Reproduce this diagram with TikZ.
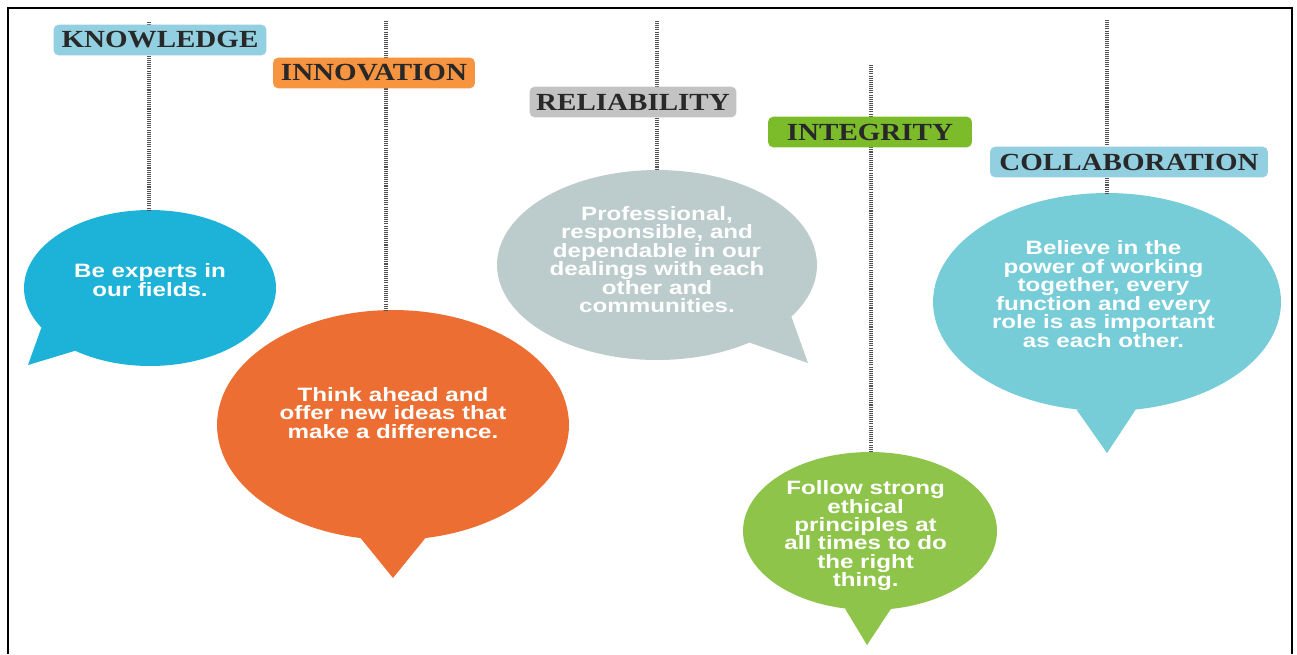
\documentclass[tikz,border=0pt]{standalone}
\usepackage{fontspec}
\setmainfont{Liberation Serif}
\setsansfont{Liberation Sans}
\usetikzlibrary{shapes.geometric}

% colours of the bubbles and the tags
\definecolor{knowblue}{RGB}{29,178,215}
\definecolor{innovorange}{RGB}{236,110,50}
\definecolor{reliagray}{RGB}{188,203,203}
\definecolor{integgreen}{RGB}{141,196,73}
\definecolor{collabteal}{RGB}{118,205,216}
\definecolor{tagblue}{RGB}{146,207,224}
\definecolor{tagorange}{RGB}{247,148,63}
\definecolor{taggray}{RGB}{195,195,195}
\definecolor{taggreen}{RGB}{124,187,42}
\definecolor{tagink}{RGB}{40,40,40}

\newcommand{\tagtext}[1]{\scalebox{1.18}[1]{#1}}
% centred lines, widened a little, with a fixed line pitch
\newcommand{\bubtext}[1]{\scalebox{1.25}[1]{\vbox{\lineskiplimit=-8pt\let\\\cr
  \halign{\hfil##\hfil\cr #1\crcr}}}}

\begin{document}
\begin{tikzpicture}[x=0.02cm, y=-0.02cm,
    tag/.style={rounded corners=3pt, minimum height=17.5pt, inner xsep=3pt, inner ysep=0pt,
      text=tagink, font=\fontsize{14}{14}\selectfont\bfseries},
    bubble/.style={ellipse, inner sep=0pt, outer sep=0pt},
    saying/.style={text=white, inner sep=0pt, font=\sffamily\fontsize{11}{10.5}\selectfont\bfseries},
    hanger/.style={black!68, line width=1.8pt, dash pattern=on 0.6pt off 0.6pt}]

  \useasboundingbox (0,0) rectangle (1297,654);

  % Frame
  \draw[line width=1.2pt] (8,654) -- (8,8) -- (1292,8) -- (1292,654);

  % Bubbles
  \node[bubble, fill=knowblue, minimum width=5.04cm, minimum height=3.12cm] (know) at (150,288) {};
  \coordinate (know tip) at (28,365);
  \fill[knowblue] (know.200) -- (know tip) -- (know.220) -- cycle;

  \node[bubble, fill=innovorange, minimum width=7.04cm, minimum height=4.6cm] (innov) at (393,425) {};
  \coordinate (innov tip) at (393,578);
  \fill[innovorange] (innov.254) -- (innov tip) -- (innov.286) -- cycle;

  \node[bubble, fill=reliagray, minimum width=6.4cm, minimum height=3.8cm] (relia) at (657,265) {};
  \coordinate (relia tip) at (808,363);
  \fill[reliagray] (relia.320) -- (relia tip) -- (relia.339) -- cycle;

  \node[bubble, fill=integgreen, minimum width=5.08cm, minimum height=3.16cm] (integ) at (870,531) {};
  \coordinate (integ tip) at (867,645);
  \fill[integgreen] (integ.252) -- (integ tip) -- (integ.285) -- cycle;

  \node[bubble, fill=collabteal, minimum width=6.96cm, minimum height=4.36cm] (collab) at (1107,302) {};
  \coordinate (collab tip) at (1107,453);
  \fill[collabteal] (collab.254) -- (collab tip) -- (collab.285) -- cycle;

  % Texts in the bubbles
  \node[saying] (know txt) at ([yshift=4.5pt]know.center) {\bubtext{Be experts in\\ our fields.}};
  \node[saying] (innov txt) at ([yshift=6.8pt]innov.center) {\bubtext{Think ahead and\\ offer new ideas that\\ make a difference.}};
  \node[saying] (relia txt) at ([yshift=3pt]relia.center) {\bubtext{Professional,\\ responsible, and\\ dependable in our\\ dealings with each\\ other and\\ communities.}};
  \node[saying] (integ txt) at ([xshift=-2.5pt, yshift=-2.7pt]integ.center) {\bubtext{Follow strong\\ ethical\\ principles at\\ all times to do\\ the right\\ thing.}};
  \node[saying] (collab txt) at ([yshift=4.5pt, xshift=-2pt]collab.center) {\bubtext{Believe in the\\ power of working\\ together, every\\ function and every\\ role is as important\\ as each other.}};

  % Hanging strings
  \coordinate (know top) at (149,22);
  \coordinate (innov top) at (386,21);
  \coordinate (relia top) at (657,21);
  \coordinate (integ top) at (871,65);
  \coordinate (collab top) at (1107,20);
  \foreach \b in {know, innov, relia, integ, collab} {
    \draw[hanger] (\b\space top) -- (\b\space top |- \b.north);
  }

  % Tags on the strings
  \node[tag, fill=tagblue, minimum width=4.26cm] (know tag) at (160,40) {\tagtext{KNOWLEDGE}};
  \node[tag, fill=tagorange, minimum width=4.04cm] (innov tag) at (374,73) {\tagtext{INNOVATION}};
  \node[tag, fill=taggray, minimum width=4.14cm] (relia tag) at (633,102) {\tagtext{RELIABILITY}};
  \node[tag, fill=taggreen, minimum width=4.08cm] (integ tag) at (870,132) {\tagtext{INTEGRITY}};
  \node[tag, fill=tagblue, minimum width=5.56cm] (collab tag) at (1129,162) {\tagtext{COLLABORATION}};
\end{tikzpicture}
\end{document}
